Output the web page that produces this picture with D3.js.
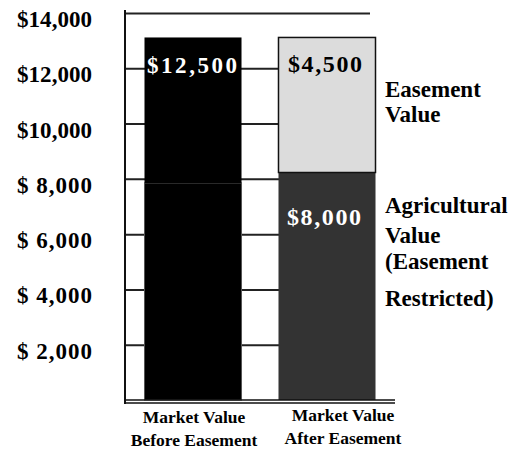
<!DOCTYPE html>
<html>
<head>
<meta charset="utf-8">
<script src="https://cdn.jsdelivr.net/npm/d3@7"></script>
<style>
  body { margin: 0; background: #fff; }
  text { font-family: "Liberation Serif", "Times New Roman", serif; font-weight: bold; }
</style>
</head>
<body>
<div id="chart"></div>
<script>
// data
const categories = ["Market Value Before Easement", "Market Value After Easement"];
const labelLines = [["Market Value", "Before Easement"], ["Market Value", "After Easement"]];
const agricultural = [7850, 8230];   // lower segment, as drawn
const easement = [5265, 4885];       // upper segment, as drawn
const valueLabels = ["$12,500", "$4,500", "$8,000"];
const tickValues = [2000, 4000, 6000, 8000, 10000, 12000, 14000];
const tickLabels = ["$ 2,000", "$ 4,000", "$ 6,000", "$ 8,000", "$10,000", "$12,000", "$14,000"];
const sideLabels = [["Easement", "Value"], ["Agricultural", "Value", "(Easement", "Restricted)"]];

const svg = d3.select("#chart")
    .append("svg")
    .attr("width", 526)
    .attr("height", 450);

const y = d3.scaleLinear()
    .domain([0, 14000])
    .range([400, 13]);

const x = d3.scaleBand()
    .domain(categories)
    .range([125, 395])
    .paddingInner(0.276)
    .paddingOuter(0.1455);

// labels under the bars sit a bit off the bar centres
const xLabel = d3.scalePoint()
    .domain(categories)
    .range([194, 343]);

// gridlines
const grid = svg.append("g")
    .attr("transform", "translate(125,0)")
    .call(d3.axisRight(y).tickValues(tickValues).tickSize(245).tickFormat(""));
grid.select(".domain").remove();
grid.selectAll("line").attr("stroke", "#222").attr("stroke-width", 2);

// tick labels
svg.selectAll(".ylab")
    .data(tickValues)
    .enter()
    .append("text")
    .attr("class", "ylab")
    .attr("x", 17)
    .attr("y", function (d) { return y(d) + 14; })
    .attr("font-size", 23)
    .attr("textLength", 75)
    .attr("lengthAdjust", "spacing")
    .attr("fill", "#000")
    .text(function (d, i) { return tickLabels[i]; });

// lower segments
svg.selectAll(".agri")
    .data(categories)
    .enter()
    .append("rect")
    .attr("class", "agri")
    .attr("x", function (d) { return x(d); })
    .attr("width", x.bandwidth())
    .attr("y", function (d, i) { return y(agricultural[i]); })
    .attr("height", function (d, i) { return y(0) - y(agricultural[i]); })
    .attr("fill", function (d, i) { return i === 0 ? "#000" : "#333"; })
    .attr("stroke", function (d, i) { return i === 0 ? "#555" : "none"; })
    .attr("stroke-width", 1);

// upper segments
svg.selectAll(".ease")
    .data(categories)
    .enter()
    .append("rect")
    .attr("class", "ease")
    .attr("x", function (d) { return x(d); })
    .attr("width", x.bandwidth())
    .attr("y", function (d, i) { return y(agricultural[i] + easement[i]); })
    .attr("height", function (d, i) { return y(agricultural[i]) - y(agricultural[i] + easement[i]); })
    .attr("fill", function (d, i) { return i === 0 ? "#000" : "#dcdcdc"; })
    .attr("stroke", function (d, i) { return i === 0 ? "none" : "#111"; })
    .attr("stroke-width", 1.5);

// axis lines
svg.append("line")
    .attr("x1", 125).attr("x2", 125)
    .attr("y1", 10).attr("y2", 404)
    .attr("stroke", "#111").attr("stroke-width", 2);
svg.append("line")
    .attr("x1", 125).attr("x2", 395)
    .attr("y1", y(0)).attr("y2", y(0))
    .attr("stroke", "#111").attr("stroke-width", 1.5);
svg.append("line")
    .attr("x1", 125).attr("x2", 395)
    .attr("y1", y(0) + 3).attr("y2", y(0) + 3)
    .attr("stroke", "#111").attr("stroke-width", 1.5);

// values inside bars
const c0 = x(categories[0]) + x.bandwidth() / 2;
const c1 = x(categories[1]) + x.bandwidth() / 2;
svg.append("text")
    .attr("x", c0 - 46).attr("y", y(agricultural[0] + easement[0]) + 35.5)
    .attr("font-size", 23).attr("fill", "#fff")
    .attr("textLength", 90).attr("lengthAdjust", "spacing")
    .text(valueLabels[0]);
svg.append("text")
    .attr("x", c1 - 39).attr("y", y(agricultural[1] + easement[1]) + 34.5)
    .attr("font-size", 24).attr("fill", "#000")
    .attr("textLength", 74).attr("lengthAdjust", "spacing")
    .text(valueLabels[1]);
svg.append("text")
    .attr("x", c1 - 40).attr("y", y(agricultural[1]) + 52.5)
    .attr("font-size", 24).attr("fill", "#fff")
    .attr("textLength", 74).attr("lengthAdjust", "spacing")
    .text(valueLabels[2]);

// side labels
const side1 = svg.append("text").attr("font-size", 23).attr("fill", "#000");
side1.selectAll("tspan")
    .data(sideLabels[0])
    .enter()
    .append("tspan")
    .attr("x", 385)
    .attr("y", function (d, i) { return [97, 122][i]; })
    .text(function (d) { return d; });
const side2 = svg.append("text").attr("font-size", 23).attr("fill", "#000");
side2.selectAll("tspan")
    .data(sideLabels[1])
    .enter()
    .append("tspan")
    .attr("x", 385)
    .attr("y", function (d, i) { return [213, 243, 269, 306][i]; })
    .text(function (d) { return d; });

// category labels
categories.forEach(function (c, i) {
    svg.append("text")
        .attr("text-anchor", "middle")
        .attr("font-size", 17.5)
        .attr("fill", "#000")
        .selectAll("tspan")
        .data(labelLines[i])
        .enter()
        .append("tspan")
        .attr("x", xLabel(c))
        .attr("y", function (d, j) { return (i === 0 ? 423 : 421) + j * 23; })
        .text(function (d) { return d; });
});
</script>
</body>
</html>
